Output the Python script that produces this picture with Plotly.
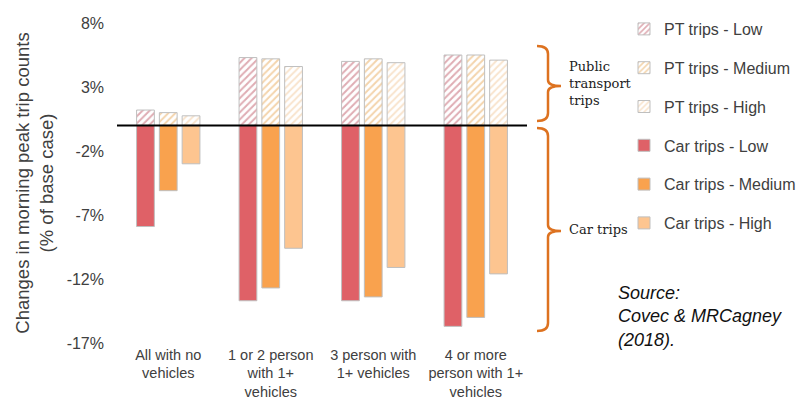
import plotly.graph_objects as go

# Household groups on the x axis
categories = [
    "All with no<br>vehicles",
    "1 or 2 person<br>with 1+<br>vehicles",
    "3 person with<br>1+ vehicles",
    "4 or more<br>person with 1+<br>vehicles",
]

# Change in morning peak trips (% of base case)
pt_low = [1.2, 5.3, 5.0, 5.5]
pt_medium = [1.0, 5.2, 5.2, 5.5]
pt_high = [0.75, 4.6, 4.9, 5.1]

car_low = [-7.9, -13.7, -13.7, -15.7]
car_medium = [-5.1, -12.7, -13.4, -15.0]
car_high = [-3.0, -9.6, -11.1, -11.6]

y_ticks = [8, 3, -2, -7, -12, -17]

# Colours per scenario
c_low, c_med, c_high = "#DF6167", "#F9A24E", "#FDC590"
hatch_low, hatch_med, hatch_high = "#BF5A68", "#E8A95A", "#F2C99C"
outline = "#BFBFBF"
text_col = "#404040"

fig = go.Figure()

pt_series = [
    ("PT trips - Low", pt_low, hatch_low, "low"),
    ("PT trips - Medium", pt_medium, hatch_med, "med"),
    ("PT trips - High", pt_high, hatch_high, "high"),
]
car_series = [
    ("Car trips - Low", car_low, c_low, "low"),
    ("Car trips - Medium", car_medium, c_med, "med"),
    ("Car trips - High", car_high, c_high, "high"),
]

for name, vals, col, grp in pt_series:
    fig.add_trace(go.Bar(
        name=name, x=categories, y=vals, offsetgroup=grp, legendgroup=name,
        marker=dict(
            color="white",
            line=dict(color=outline, width=1),
            pattern=dict(shape="/", fgcolor=col, bgcolor="white",
                         size=5, solidity=0.4),
        ),
    ))

for name, vals, col, grp in car_series:
    fig.add_trace(go.Bar(
        name=name, x=categories, y=vals, offsetgroup=grp, legendgroup=name,
        marker=dict(color=col, line=dict(color=outline, width=1)),
    ))

# Plot-area geometry in pixels, used to place the side annotations
L, R, T, B_M = 117, 278, 23, 58
W_PX, H_PX = 805, 401
PW = W_PX - L - R
PH = H_PX - T - B_M
PB = H_PX - B_M


def px(x):
    return (x - L) / PW


def py(y):
    return (PB - y) / PH


def brace(x_left, x_spine, x_tip, y0, y1, y_tip):
    pts = [
        f"M {px(x_left)},{py(y0)}",
        f"Q {px(x_spine)},{py(y0)} {px(x_spine)},{py(y0 + 8)}",
        f"L {px(x_spine)},{py(y_tip - 6)}",
        f"Q {px(x_spine)},{py(y_tip)} {px(x_tip)},{py(y_tip)}",
        f"Q {px(x_spine)},{py(y_tip)} {px(x_spine)},{py(y_tip + 6)}",
        f"L {px(x_spine)},{py(y1 - 8)}",
        f"Q {px(x_spine)},{py(y1)} {px(x_left)},{py(y1)}",
    ]
    return " ".join(pts)


brace_col = "#DD7220"
shapes = [
    dict(type="line", xref="paper", yref="y", x0=0, x1=1, y0=0, y1=0,
         line=dict(color="black", width=2), layer="above"),
    dict(type="path", xref="paper", yref="paper",
         path=brace(537, 548, 561, 46, 121, 86),
         line=dict(color=brace_col, width=2.5)),
    dict(type="path", xref="paper", yref="paper",
         path=brace(537, 548, 561, 128, 331, 231),
         line=dict(color=brace_col, width=2.5)),
]

serif = dict(family="DejaVu Serif", size=13, color="#222222")
annotations = [
    dict(text="Public<br>transport<br>trips", xref="paper", yref="paper",
         x=px(567), y=py(83), xanchor="left", yanchor="middle",
         showarrow=False, align="left", font=serif),
    dict(text="Car trips", xref="paper", yref="paper",
         x=px(567), y=py(229), xanchor="left", yanchor="middle",
         showarrow=False, align="left", font=serif),
    dict(text="<i>Source:<br>Covec &amp; MRCagney<br>(2018).</i>",
         xref="paper", yref="paper", x=px(616), y=py(316),
         xanchor="left", yanchor="middle", showarrow=False, align="left",
         font=dict(family="Liberation Sans", size=18, color="#111111")),
]

fig.update_layout(
    width=W_PX, height=H_PX,
    margin=dict(l=L, r=R, t=T, b=B_M),
    paper_bgcolor="white", plot_bgcolor="white",
    barmode="group", bargap=0.333, bargroupgap=0.22,
    font=dict(family="Liberation Sans", color=text_col),
    showlegend=True,
    legend=dict(
        xref="container", yref="paper",
        x=624 / W_PX, y=py(126),
        xanchor="left", yanchor="middle",
        traceorder="grouped", tracegroupgap=15,
        font=dict(size=16, color=text_col),
        bgcolor="rgba(0,0,0,0)",
    ),
    shapes=shapes,
    annotations=annotations,
)

fig.update_xaxes(
    showgrid=False, showline=False, zeroline=False, ticks="",
    automargin=False, ticklabelstandoff=1,
    tickfont=dict(size=14.5, color=text_col),
)
fig.update_yaxes(
    range=[-17, 8], tickvals=y_ticks,
    ticktext=[f"{v}%" for v in y_ticks],
    showgrid=False, zeroline=False, showline=False, ticks="",
    automargin=False, ticklabelstandoff=12,
    tickfont=dict(size=16, color=text_col),
    title=dict(text="Changes in morning peak trip counts<br>(% of base case)",
               font=dict(size=18.5, color=text_col), standoff=8),
)

fig.write_html("out.html")
